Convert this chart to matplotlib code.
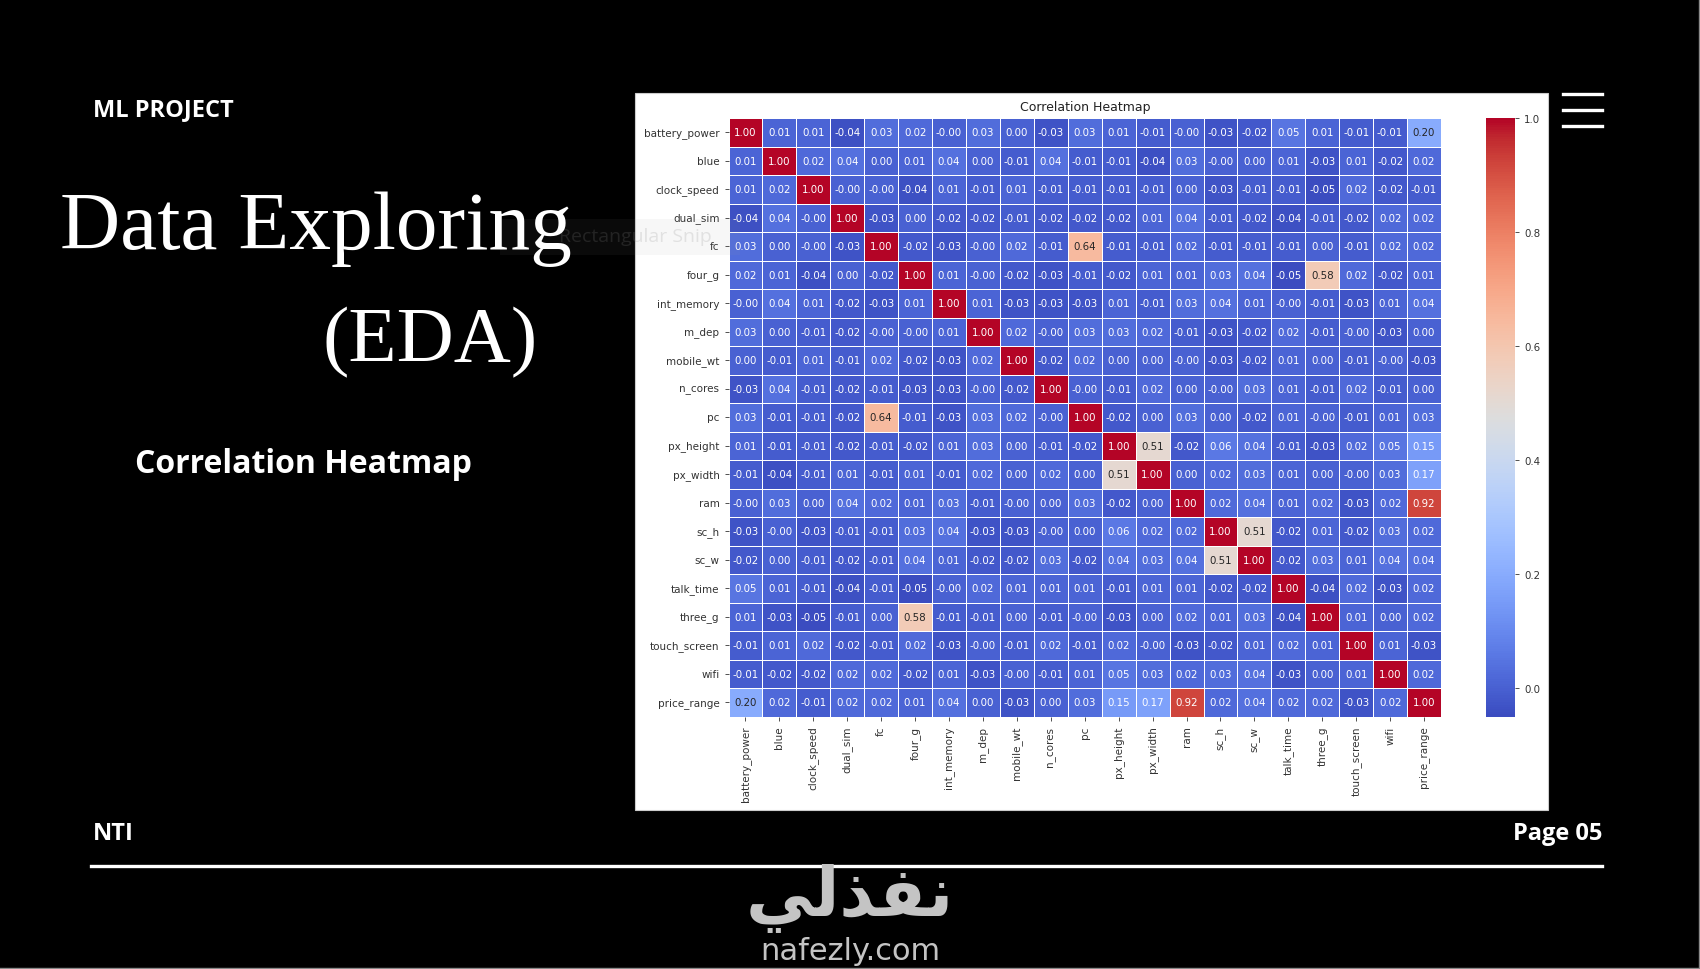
import numpy as np
import pandas as pd
import matplotlib
matplotlib.use("Agg")
import matplotlib.pyplot as plt
from matplotlib.patches import Rectangle
from matplotlib.lines import Line2D
import seaborn as sns

features = ["battery_power", "blue", "clock_speed", "dual_sim", "fc", "four_g",
            "int_memory", "m_dep", "mobile_wt", "n_cores", "pc", "px_height",
            "px_width", "ram", "sc_h", "sc_w", "talk_time", "three_g",
            "touch_screen", "wifi", "price_range"]

row_battery_power = [1.00, 0.01, 0.01, -0.04, 0.03, 0.02, -0.00, 0.03, 0.00, -0.03, 0.03, 0.01, -0.01, -0.00, -0.03, -0.02, 0.05, 0.01, -0.01, -0.01, 0.20]
row_blue = [0.01, 1.00, 0.02, 0.04, 0.00, 0.01, 0.04, 0.00, -0.01, 0.04, -0.01, -0.01, -0.04, 0.03, -0.00, 0.00, 0.01, -0.03, 0.01, -0.02, 0.02]
row_clock_speed = [0.01, 0.02, 1.00, -0.00, -0.00, -0.04, 0.01, -0.01, 0.01, -0.01, -0.01, -0.01, -0.01, 0.00, -0.03, -0.01, -0.01, -0.05, 0.02, -0.02, -0.01]
row_dual_sim = [-0.04, 0.04, -0.00, 1.00, -0.03, 0.00, -0.02, -0.02, -0.01, -0.02, -0.02, -0.02, 0.01, 0.04, -0.01, -0.02, -0.04, -0.01, -0.02, 0.02, 0.02]
row_fc = [0.03, 0.00, -0.00, -0.03, 1.00, -0.02, -0.03, -0.00, 0.02, -0.01, 0.64, -0.01, -0.01, 0.02, -0.01, -0.01, -0.01, 0.00, -0.01, 0.02, 0.02]
row_four_g = [0.02, 0.01, -0.04, 0.00, -0.02, 1.00, 0.01, -0.00, -0.02, -0.03, -0.01, -0.02, 0.01, 0.01, 0.03, 0.04, -0.05, 0.58, 0.02, -0.02, 0.01]
row_int_memory = [-0.00, 0.04, 0.01, -0.02, -0.03, 0.01, 1.00, 0.01, -0.03, -0.03, -0.03, 0.01, -0.01, 0.03, 0.04, 0.01, -0.00, -0.01, -0.03, 0.01, 0.04]
row_m_dep = [0.03, 0.00, -0.01, -0.02, -0.00, -0.00, 0.01, 1.00, 0.02, -0.00, 0.03, 0.03, 0.02, -0.01, -0.03, -0.02, 0.02, -0.01, -0.00, -0.03, 0.00]
row_mobile_wt = [0.00, -0.01, 0.01, -0.01, 0.02, -0.02, -0.03, 0.02, 1.00, -0.02, 0.02, 0.00, 0.00, -0.00, -0.03, -0.02, 0.01, 0.00, -0.01, -0.00, -0.03]
row_n_cores = [-0.03, 0.04, -0.01, -0.02, -0.01, -0.03, -0.03, -0.00, -0.02, 1.00, -0.00, -0.01, 0.02, 0.00, -0.00, 0.03, 0.01, -0.01, 0.02, -0.01, 0.00]
row_pc = [0.03, -0.01, -0.01, -0.02, 0.64, -0.01, -0.03, 0.03, 0.02, -0.00, 1.00, -0.02, 0.00, 0.03, 0.00, -0.02, 0.01, -0.00, -0.01, 0.01, 0.03]
row_px_height = [0.01, -0.01, -0.01, -0.02, -0.01, -0.02, 0.01, 0.03, 0.00, -0.01, -0.02, 1.00, 0.51, -0.02, 0.06, 0.04, -0.01, -0.03, 0.02, 0.05, 0.15]
row_px_width = [-0.01, -0.04, -0.01, 0.01, -0.01, 0.01, -0.01, 0.02, 0.00, 0.02, 0.00, 0.51, 1.00, 0.00, 0.02, 0.03, 0.01, 0.00, -0.00, 0.03, 0.17]
row_ram = [-0.00, 0.03, 0.00, 0.04, 0.02, 0.01, 0.03, -0.01, -0.00, 0.00, 0.03, -0.02, 0.00, 1.00, 0.02, 0.04, 0.01, 0.02, -0.03, 0.02, 0.92]
row_sc_h = [-0.03, -0.00, -0.03, -0.01, -0.01, 0.03, 0.04, -0.03, -0.03, -0.00, 0.00, 0.06, 0.02, 0.02, 1.00, 0.51, -0.02, 0.01, -0.02, 0.03, 0.02]
row_sc_w = [-0.02, 0.00, -0.01, -0.02, -0.01, 0.04, 0.01, -0.02, -0.02, 0.03, -0.02, 0.04, 0.03, 0.04, 0.51, 1.00, -0.02, 0.03, 0.01, 0.04, 0.04]
row_talk_time = [0.05, 0.01, -0.01, -0.04, -0.01, -0.05, -0.00, 0.02, 0.01, 0.01, 0.01, -0.01, 0.01, 0.01, -0.02, -0.02, 1.00, -0.04, 0.02, -0.03, 0.02]
row_three_g = [0.01, -0.03, -0.05, -0.01, 0.00, 0.58, -0.01, -0.01, 0.00, -0.01, -0.00, -0.03, 0.00, 0.02, 0.01, 0.03, -0.04, 1.00, 0.01, 0.00, 0.02]
row_touch_screen = [-0.01, 0.01, 0.02, -0.02, -0.01, 0.02, -0.03, -0.00, -0.01, 0.02, -0.01, 0.02, -0.00, -0.03, -0.02, 0.01, 0.02, 0.01, 1.00, 0.01, -0.03]
row_wifi = [-0.01, -0.02, -0.02, 0.02, 0.02, -0.02, 0.01, -0.03, -0.00, -0.01, 0.01, 0.05, 0.03, 0.02, 0.03, 0.04, -0.03, 0.00, 0.01, 1.00, 0.02]
row_price_range = [0.20, 0.02, -0.01, 0.02, 0.02, 0.01, 0.04, 0.00, -0.03, 0.00, 0.03, 0.15, 0.17, 0.92, 0.02, 0.04, 0.02, 0.02, -0.03, 0.02, 1.00]

rows = [row_battery_power, row_blue, row_clock_speed, row_dual_sim, row_fc,
        row_four_g, row_int_memory, row_m_dep, row_mobile_wt, row_n_cores,
        row_pc, row_px_height, row_px_width, row_ram, row_sc_h, row_sc_w,
        row_talk_time, row_three_g, row_touch_screen, row_wifi, row_price_range]

corr = pd.DataFrame(rows, index=features, columns=features)

plt.rcParams['font.family'] = ['DejaVu Sans']

W, H = 1700, 970
fig = plt.figure(figsize=(W / 100, H / 100), dpi=100, facecolor="black")

def fx(px):
    return px / W

def fy(py):
    return 1 - py / H

# white panel holding the chart screenshot
fig.add_artist(Rectangle((fx(635), fy(811)), fx(1548) - fx(635), fy(94) - fy(811),
                         transform=fig.transFigure, facecolor="white",
                         edgecolor="#cccccc", linewidth=0.8, zorder=-5))

ax = fig.add_axes([fx(728.5), fy(717.5), fx(1441) - fx(728.5), fy(119) - fy(717.5)])
cax = fig.add_axes([fx(1486), fy(717.5), fx(1515) - fx(1486), fy(119) - fy(717.5)])

sns.heatmap(corr, ax=ax, cbar_ax=cax, cmap="coolwarm", annot=True, fmt=".2f",
            linewidths=0.5, linecolor="white", annot_kws={"size": 7.4})
ax.set_title("Correlation Heatmap", fontsize=9, color="#222222", pad=6)
ax.tick_params(axis="both", labelsize=7.5, colors="#333333", length=3, width=0.6)
ax.set_xticklabels(features, rotation=90)
ax.set_yticklabels(features, rotation=0)
cax.tick_params(labelsize=7.4, colors="#333333", length=3, width=0.6)
cax.set_yticks([0.0, 0.2, 0.4, 0.6, 0.8, 1.0])
cax.set_yticklabels(["0.0", "0.2", "0.4", "0.6", "0.8", "1.0"])

# faint "Rectangular Snip" overlay
fig.add_artist(Rectangle((fx(500), fy(256)), fx(740) - fx(500), fy(220) - fy(256),
                         transform=fig.transFigure, facecolor="#9a9a9a",
                         edgecolor="none", alpha=0.07, zorder=6))
fig.text(fx(712), fy(237), "Rectangular Snip", ha="right", va="center",
         fontsize=14, color="#8a8a8a", alpha=0.2, family="Open Sans", zorder=7)

# slide texts
fig.text(fx(93), fy(110), "ML PROJECT", ha="left", va="center", color="white",
         fontsize=17, fontweight="bold", family="Open Sans")
fig.text(fx(60), fy(249), "Data Exploring", ha="left", va="baseline", color="white",
         fontsize=60, family="Liberation Serif", zorder=8)
fig.text(fx(322), fy(361), "(EDA)", ha="left", va="baseline", color="white",
         fontsize=57, family="Liberation Serif")
fig.text(fx(135), fy(473), "Correlation Heatmap", ha="left", va="baseline",
         color="white", fontsize=23, fontweight="bold", family="Open Sans")
fig.text(fx(93), fy(840), "NTI", ha="left", va="baseline", color="white",
         fontsize=17, fontweight="bold", family="Open Sans")
fig.text(fx(1602), fy(840), "Page 05", ha="right", va="baseline", color="white",
         fontsize=17, fontweight="bold", family="Open Sans")

# rule and hamburger icon
fig.add_artist(Line2D([fx(91), fx(1602)], [fy(867), fy(867)], color="white",
                      linewidth=2.4, transform=fig.transFigure))
for yy in (95, 111, 127):
    fig.add_artist(Line2D([fx(1563), fx(1602)], [fy(yy), fy(yy)], color="white",
                          linewidth=2.4, transform=fig.transFigure))

# watermark
fig.text(fx(850), fy(898), "\uFEF2\uFEDF\uFEAC\uFED4\uFEE7", ha="center", va="center",
         color="#c4c4c4", fontsize=49, fontweight="bold", family="DejaVu Sans", zorder=9)
fig.text(fx(850), fy(952), "nafezly.com", ha="center", va="center",
         color="#c4c4c4", fontsize=22, family="DejaVu Sans", zorder=9)

# thin screen border
fig.add_artist(Line2D([fx(1698.5), fx(1698.5)], [0, 1], color="#8a8a8a",
                      linewidth=1.0, transform=fig.transFigure))
fig.add_artist(Line2D([0, 1], [fy(968.5), fy(968.5)], color="#8a8a8a",
                      linewidth=1.0, transform=fig.transFigure))

fig.savefig("out.png", dpi=100, facecolor="black")
